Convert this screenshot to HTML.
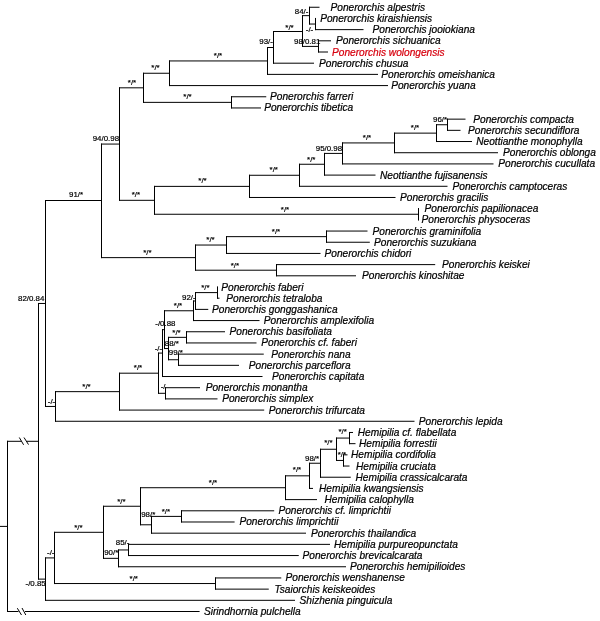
<!DOCTYPE html><html><head><meta charset="utf-8"><style>html,body{margin:0;padding:0;background:#fff;}svg{display:block;will-change:transform}</style></head><body>
<svg width="600" height="621" viewBox="0 0 600 621">
<rect width="600" height="621" fill="#fff"/>
<path d="M7.5 440.801L7.5 612.01M7 441.301L39 441.301M38.5 302.981L38.5 579.62M38 303.481L46 303.481M45.5 200L45.5 406.962M45 200.5L102 200.5M101.5 143.567L101.5 258.126M101 144.067L120 144.067M119.5 87.3137L119.5 200.821M119 87.8137L144 87.8137M143.5 72.7625L143.5 102.865M143 73.2625L170 73.2625M169.5 60.445L169.5 86.08M169 60.945L268 60.945M267.5 47L267.5 74.89M267 47.5L274 47.5M273.5 31L273.5 63.7M273 31.5L303 31.5M302.5 15.1425L302.5 46.915M302 15.6425L310 15.6425M309.5 6.75L309.5 24.535M309 7.25L319.5 7.25M309 24.035L316 24.035M315.5 17.94L315.5 30.13M315 29.63L363.5 29.63M302 46.415L319 46.415M318.5 40.32L318.5 52.51M318 40.82L331 40.82M318 52.01L328 52.01M273 63.2L314 63.2M267 74.39L378 74.39M169 85.58L388 85.58M143 102.365L232 102.365M231.5 96.27L231.5 108.46M231 96.77L266.25 96.77M231 107.96L261 107.96M119 200.321L155 200.321M154.5 185.877L154.5 214.765M154 186.377L250 186.377M249.5 174.775L249.5 197.98M249 175.275L300 175.275M299.5 163.76L299.5 186.79M299 164.26L325 164.26M324.5 152.919L324.5 175.6M324 153.419L343 153.419M342.5 142.429L342.5 164.41M342 142.929L395 142.929M394.5 132.637L394.5 153.22M394 133.137L437 133.137M436.5 124.245L436.5 142.03M436 124.745L448 124.745M447.5 118.65L447.5 130.84M447 119.15L465.5 119.15M447 130.34L460.5 130.34M436 141.53L472 141.53M394 152.72L498 152.72M342 163.91L493.5 163.91M324 175.1L375.5 175.1M299 186.29L447.5 186.29M249 197.48L395.5 197.48M154 214.265L419 214.265M418.5 208.17L418.5 220.36M418 208.67L419 208.67M418 219.86L419 219.86M101 257.626L196 257.626M195.5 244.537L195.5 270.715M195 245.037L227 245.037M226.5 236.145L226.5 253.93M226 236.645L327 236.645M326.5 230.55L326.5 242.74M326 231.05L367.5 231.05M326 242.24L369.8 242.24M226 253.43L320.5 253.43M195 270.215L277 270.215M276.5 264.12L276.5 276.31M276 264.62L435.2 264.62M276 275.81L356 275.81M45 406.462L56 406.462M55.5 391.144L55.5 421.78M55 391.644L120 391.644M119.5 372.698L119.5 410.59M119 373.198L159 373.198M158.5 352.591L158.5 393.805M158 353.091L163 353.091M162.5 329.162L162.5 377.02M162 329.662L165 329.662M164.5 310.279L164.5 349.045M164 310.779L194 310.779M193.5 300.488L193.5 321.07M193 300.988L196 300.988M195.5 292.095L195.5 309.88M195 292.595L218 292.595M217.5 286.5L217.5 298.69M217 287L217.5 287M217 298.19L219.5 298.19M195 309.38L208.25 309.38M193 320.57L259.5 320.57M164 348.545L169 348.545M168.5 336.855L168.5 360.235M168 337.355L187 337.355M186.5 331.26L186.5 343.45M186 331.76L225 331.76M186 342.95L256.5 342.95M168 359.735L179 359.735M178.5 353.64L178.5 365.83M178 354.14L263.75 354.14M178 365.33L239 365.33M162 376.52L262.5 376.52M158 393.305L166 393.305M165.5 387.21L165.5 399.4M165 387.71L200 387.71M165 398.9L217.5 398.9M119 410.09L264.2 410.09M55 421.28L414.5 421.28M38 579.12L46 579.12M45.5 557.42L45.5 600.82M45 557.92L55 557.92M54.5 531.806L54.5 584.035M54 532.306L104 532.306M103.5 505.754L103.5 558.857M103 506.254L141 506.254M140.5 487.221L140.5 525.287M140 487.721L286 487.721M285.5 475.331L285.5 500.11M285 475.831L310 475.831M309.5 462.742L309.5 488.92M309 463.242L321 463.242M320.5 448.755L320.5 477.73M320 449.255L337 449.255M336.5 437.565L336.5 460.945M336 438.065L350 438.065M349.5 431.97L349.5 444.16M349 432.47L353 432.47M349 443.66L355.5 443.66M336 460.445L344 460.445M343.5 454.35L343.5 466.54M343 454.85L347.5 454.85M343 466.04L349.5 466.04M320 477.23L350.75 477.23M309 488.42L313 488.42M285 499.61L317 499.61M140 524.787L152 524.787M151.5 515.895L151.5 533.68M151 516.395L182 516.395M181.5 510.3L181.5 522.49M181 510.8L274.2 510.8M181 521.99L234.6 521.99M151 533.18L306 533.18M103 558.357L119 558.357M118.5 549.465L118.5 567.25M118 549.965L129 549.965M128.5 543.87L128.5 556.06M128 544.37L330 544.37M128 555.56L298.75 555.56M118 566.75L346 566.75M54 583.535L216 583.535M215.5 577.44L215.5 589.63M215 577.94L281.25 577.94M215 589.13L268.75 589.13M45 600.32L295 600.32M7 611.51L199.6 611.51M0 526.405L7.5 526.405" stroke="#000" stroke-width="1" fill="none"/>
<rect x="21.5" y="440" width="5" height="3" fill="#fff"/>
<rect x="18.5" y="610" width="6.5" height="3" fill="#fff"/>
<path d="M19.3 437.5L23.6 444.8M24 437.5L28.5 444.6M17.3 608.2L21.5 615M22 608L25.8 615" stroke="#000" stroke-width="1" fill="none"/>
<g font-family="Liberation Sans" font-style="italic" font-size="10.15" stroke-width="0.22">
<text x="330.50" y="10.75" stroke="#000">Ponerorchis alpestris</text>
<text x="320.20" y="21.94" stroke="#000">Ponerorchis kiraishiensis</text>
<text x="372.50" y="33.13" stroke="#000">Ponerorchis jooiokiana</text>
<text x="336.00" y="44.32" stroke="#000">Ponerorchis sichuanica</text>
<text x="332.00" y="55.51" fill="#d7000f" stroke="#d7000f">Ponerorchis wolongensis</text>
<text x="319.00" y="66.70" stroke="#000">Ponerorchis chusua</text>
<text x="381.30" y="77.89" stroke="#000">Ponerorchis omeishanica</text>
<text x="391.20" y="89.08" stroke="#000">Ponerorchis yuana</text>
<text x="270.00" y="100.27" stroke="#000">Ponerorchis farreri</text>
<text x="264.20" y="111.46" stroke="#000">Ponerorchis tibetica</text>
<text x="473.25" y="122.65" stroke="#000">Ponerorchis compacta</text>
<text x="468.00" y="133.84" stroke="#000">Ponerorchis secundiflora</text>
<text x="476.25" y="145.03" stroke="#000">Neottianthe monophylla</text>
<text x="503.00" y="156.22" stroke="#000">Ponerorchis oblonga</text>
<text x="498.25" y="167.41" stroke="#000">Ponerorchis cucullata</text>
<text x="380.00" y="178.60" stroke="#000">Neottianthe fujisanensis</text>
<text x="452.50" y="189.79" stroke="#000">Ponerorchis camptoceras</text>
<text x="400.00" y="200.98" stroke="#000">Ponerorchis gracilis</text>
<text x="424.60" y="212.17" stroke="#000">Ponerorchis papilionacea</text>
<text x="421.60" y="223.36" stroke="#000">Ponerorchis physoceras</text>
<text x="372.60" y="234.55" stroke="#000">Ponerorchis graminifolia</text>
<text x="374.00" y="245.74" stroke="#000">Ponerorchis suzukiana</text>
<text x="324.60" y="256.93" stroke="#000">Ponerorchis chidori</text>
<text x="442.00" y="268.12" stroke="#000">Ponerorchis keiskei</text>
<text x="362.00" y="279.31" stroke="#000">Ponerorchis kinoshitae</text>
<text x="221.25" y="290.50" stroke="#000">Ponerorchis faberi</text>
<text x="226.25" y="301.69" stroke="#000">Ponerorchis tetraloba</text>
<text x="212.00" y="312.88" stroke="#000">Ponerorchis gonggashanica</text>
<text x="263.75" y="324.07" stroke="#000">Ponerorchis amplexifolia</text>
<text x="229.50" y="335.26" stroke="#000">Ponerorchis basifoliata</text>
<text x="261.25" y="346.45" stroke="#000">Ponerorchis cf. faberi</text>
<text x="271.25" y="357.64" stroke="#000">Ponerorchis nana</text>
<text x="248.75" y="368.83" stroke="#000">Ponerorchis parceflora</text>
<text x="272.00" y="380.02" stroke="#000">Ponerorchis capitata</text>
<text x="205.70" y="391.21" stroke="#000">Ponerorchis monantha</text>
<text x="222.20" y="402.40" stroke="#000">Ponerorchis simplex</text>
<text x="268.75" y="413.59" stroke="#000">Ponerorchis trifurcata</text>
<text x="418.75" y="424.78" stroke="#000">Ponerorchis lepida</text>
<text x="357.80" y="435.97" stroke="#000">Hemipilia cf. flabellata</text>
<text x="359.00" y="447.16" stroke="#000">Hemipilia forrestii</text>
<text x="351.00" y="458.35" stroke="#000">Hemipilia cordifolia</text>
<text x="356.00" y="469.54" stroke="#000">Hemipilia cruciata</text>
<text x="355.50" y="480.73" stroke="#000">Hemipilia crassicalcarata</text>
<text x="319.00" y="491.92" stroke="#000">Hemipilia kwangsiensis</text>
<text x="324.50" y="503.11" stroke="#000">Hemipilia calophylla</text>
<text x="278.40" y="514.30" stroke="#000">Ponerorchis cf. limprichtii</text>
<text x="239.40" y="525.49" stroke="#000">Ponerorchis limprichtii</text>
<text x="311.00" y="536.68" stroke="#000">Ponerorchis thailandica</text>
<text x="334.00" y="547.87" stroke="#000">Hemipilia purpureopunctata</text>
<text x="302.60" y="559.06" stroke="#000">Ponerorchis brevicalcarata</text>
<text x="350.00" y="570.25" stroke="#000">Ponerorchis hemipilioides</text>
<text x="285.50" y="581.44" stroke="#000">Ponerorchis wenshanense</text>
<text x="274.50" y="592.63" stroke="#000">Tsaiorchis keiskeoides</text>
<text x="299.50" y="603.82" stroke="#000">Shizhenia pinguicula</text>
<text x="203.90" y="615.01" stroke="#000">Sirindhornia pulchella</text>
</g>
<g font-family="Liberation Sans" font-size="7.9" stroke="#000" stroke-width="0.2">
<text x="294.80" y="13.60" text-anchor="start">84/-</text>
<text x="305.80" y="32.10" text-anchor="start">-/-</text>
<text x="289.50" y="30.30" text-anchor="middle">*/*</text>
<text x="294.00" y="44.00" text-anchor="start">98/0.81</text>
<text x="259.30" y="44.10" text-anchor="start">93/-</text>
<text x="218.00" y="57.80" text-anchor="middle">*/*</text>
<text x="155.50" y="70.30" text-anchor="middle">*/*</text>
<text x="132.00" y="84.80" text-anchor="middle">*/*</text>
<text x="187.50" y="99.30" text-anchor="middle">*/*</text>
<text x="92.70" y="141.30" text-anchor="start">94/0.98</text>
<text x="69.00" y="197.30" text-anchor="start">91/*</text>
<text x="135.90" y="197.30" text-anchor="middle">*/*</text>
<text x="202.50" y="183.30" text-anchor="middle">*/*</text>
<text x="273.75" y="172.30" text-anchor="middle">*/*</text>
<text x="311.25" y="161.80" text-anchor="middle">*/*</text>
<text x="315.75" y="150.80" text-anchor="start">95/0.98</text>
<text x="367.00" y="140.30" text-anchor="middle">*/*</text>
<text x="415.00" y="130.30" text-anchor="middle">*/*</text>
<text x="433.00" y="121.80" text-anchor="start">96/*</text>
<text x="285.00" y="211.80" text-anchor="middle">*/*</text>
<text x="147.30" y="254.80" text-anchor="middle">*/*</text>
<text x="210.50" y="242.30" text-anchor="middle">*/*</text>
<text x="276.00" y="233.80" text-anchor="middle">*/*</text>
<text x="234.80" y="267.50" text-anchor="middle">*/*</text>
<text x="18.00" y="301.20" text-anchor="start">82/0.84</text>
<text x="47.80" y="404.30" text-anchor="start">-/-</text>
<text x="86.50" y="388.80" text-anchor="middle">*/*</text>
<text x="138.00" y="370.30" text-anchor="middle">*/*</text>
<text x="154.70" y="351.30" text-anchor="start">-/-</text>
<text x="160.70" y="389.00" text-anchor="start">-/</text>
<text x="155.30" y="326.30" text-anchor="start">-/0.88</text>
<text x="178.00" y="308.30" text-anchor="middle">*/*</text>
<text x="182.00" y="299.50" text-anchor="start">92/-</text>
<text x="205.30" y="290.10" text-anchor="middle">*/*</text>
<text x="164.80" y="345.60" text-anchor="start">88/*</text>
<text x="176.50" y="334.80" text-anchor="middle">*/*</text>
<text x="168.80" y="355.10" text-anchor="start">99/*</text>
<text x="25.50" y="585.60" text-anchor="start">-/0.85</text>
<text x="47.00" y="554.80" text-anchor="start">-/-</text>
<text x="78.30" y="529.80" text-anchor="middle">*/*</text>
<text x="121.30" y="504.10" text-anchor="middle">*/*</text>
<text x="104.20" y="555.40" text-anchor="start">90/*</text>
<text x="115.80" y="544.70" text-anchor="start">85/-</text>
<text x="133.75" y="580.80" text-anchor="middle">*/*</text>
<text x="141.20" y="517.00" text-anchor="start">98/*</text>
<text x="165.80" y="513.60" text-anchor="middle">*/*</text>
<text x="213.00" y="484.80" text-anchor="middle">*/*</text>
<text x="297.00" y="471.80" text-anchor="middle">*/*</text>
<text x="305.00" y="460.80" text-anchor="start">98/*</text>
<text x="324.20" y="445.00" text-anchor="start">*/*</text>
<text x="338.50" y="433.80" text-anchor="start">*/*</text>
<text x="337.80" y="456.80" text-anchor="start">*/*</text>
</g>
</svg></body></html>
